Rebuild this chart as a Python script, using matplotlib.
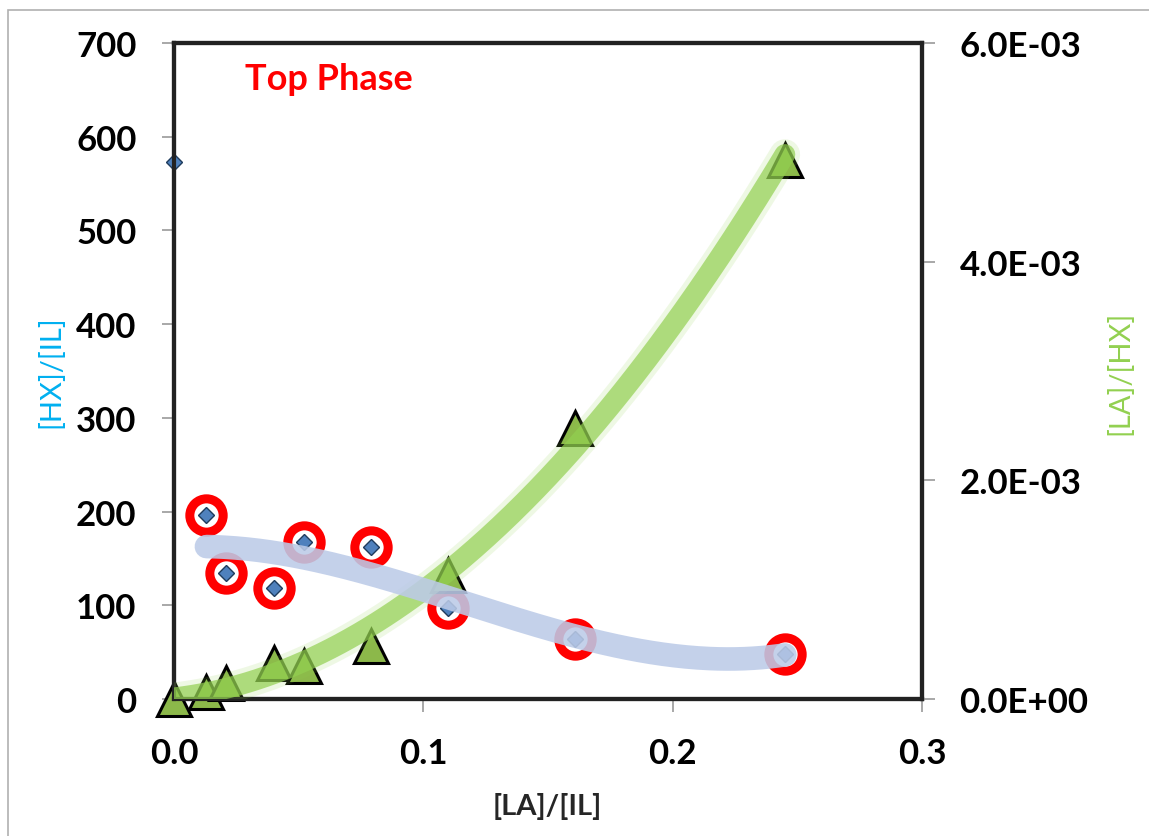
import numpy as np
import matplotlib
matplotlib.use("Agg")
import matplotlib.pyplot as plt
from matplotlib.patches import Rectangle

plt.rcParams['font.family'] = ['Lato', 'DejaVu Sans']

# [LA]/[IL] ratio, circled points (top phase)
la_il = [0.013, 0.021, 0.040, 0.052, 0.079, 0.110, 0.161, 0.245]
hx_il = [196, 134, 118, 168, 162, 97, 64, 48]
# stray point sitting on the axis
la_il_0 = [0.0]
hx_il_0 = [573]

# [LA]/[HX] (right axis), includes origin
la_il_g = [0.0, 0.013, 0.021, 0.040, 0.052, 0.079, 0.110, 0.161, 0.245]
la_hx = [0.0, 6.1e-5, 1.42e-4, 3.32e-4, 3.05e-4, 4.83e-4, 1.13e-3, 2.48e-3, 4.93e-3]

xticks = [0.0, 0.1, 0.2, 0.3]
yticks_l = [0, 100, 200, 300, 400, 500, 600, 700]
yticks_r = [0.0, 2e-3, 4e-3, 6e-3]

fig = plt.figure(figsize=(11.49, 8.37), dpi=100)
ax = fig.add_axes([174/1149, 1-700/837, (922-174)/1149, (700-44)/837])
ax2 = ax.twinx()

# excel style trendlines
pb = np.polyfit(la_il, hx_il, 3)
xb = np.linspace(la_il[0], la_il[-1], 200)
pg = np.polyfit(la_il_g, la_hx, 2)
xg = np.linspace(0, la_il_g[-1], 200)

# red rings + diamonds (left axis)
ax.plot(la_il, hx_il, 'o', ms=24, mfc='white', mec='#ff0000', mew=6.5, zorder=2)
ax.plot(la_il, hx_il, 'D', ms=8, mfc='#4f81bd', mec='#1f3b5c', mew=1, zorder=3)
ax.plot(la_il_0, hx_il_0, 'D', ms=8, mfc='#4f81bd', mec='#1f3b5c', mew=1, zorder=5, clip_on=False)

# triangles (right axis)
ax2.plot(la_il_g, la_hx, '^', ms=24, mfc='#8cb84a', mec='black', mew=2.2, zorder=2, clip_on=False)

# green trend band with soft edge
ax2.plot(xg, np.polyval(pg, xg), color='#92d050', lw=22, alpha=0.15, solid_capstyle='round', zorder=3)
ax2.plot(xg, np.polyval(pg, xg), color='#92d050', lw=15, alpha=0.7, solid_capstyle='round', zorder=3)

# blue trend band, drawn over everything but in left-axis units
ax2.plot(xb, np.polyval(pb, xb), color='#bccbe8', lw=17, alpha=0.88, solid_capstyle='round',
         zorder=4, transform=ax.transData)

ax.set_xlim(0, 0.3)
ax.set_ylim(0, 700)
ax2.set_ylim(0, 6e-3)
ax.set_xticks(xticks)
ax.set_xticklabels(['%.1f' % v for v in xticks])
ax.set_yticks(yticks_l)
ax2.set_yticks(yticks_r)
ax2.set_yticklabels(['%.1E' % v for v in yticks_r])

for a in (ax, ax2):
    for s in a.spines.values():
        s.set_linewidth(3)
        s.set_color('#222222')
    a.tick_params(length=9, width=1.2, color='#999999', labelsize=25, pad=18)
    for lab in a.get_xticklabels() + a.get_yticklabels():
        lab.set_fontweight('bold')

ax.text(0.095, 0.946, 'Top Phase', transform=ax.transAxes, color='#ff0000',
        fontsize=26, fontweight='bold', ha='left', va='center')

fig.text(51/1149, 1-372/837, '[HX]/[IL]', rotation=90, color='#00b0f0', fontsize=21,
         ha='center', va='center')
fig.text(1120/1149, 1-373/837, '[LA]/[HX]', rotation=90, color='#92d050', fontsize=21,
         ha='center', va='center')
fig.text(547/1149, 1-807/837, '[LA]/[IL]', color='#262626', fontsize=21,
         fontweight='bold', ha='center', va='center')

# thin grey chart-area frame
fig.patches.append(Rectangle((8/1149, -0.1), 1.2, 1-11/837+0.1, transform=fig.transFigure,
                             fill=False, ec='#b0b0b0', lw=1.2))

fig.savefig('out.png', dpi=100)
